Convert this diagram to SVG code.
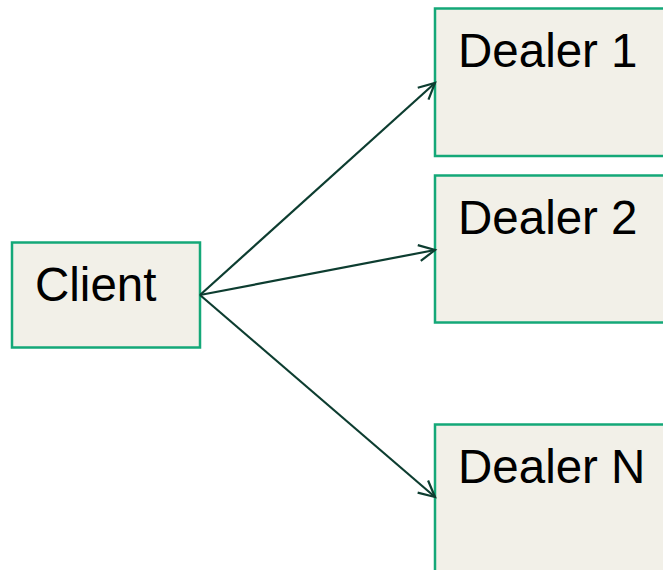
<svg xmlns="http://www.w3.org/2000/svg" width="663" height="570" viewBox="0 0 663 570">
<style>
.box{fill:#f2f0e8;stroke:#14a878;stroke-width:2.5}
.lbl{font-family:"Liberation Sans",Arial,sans-serif;font-size:47.5px;fill:#000}
.conn{stroke:#0d3d30;stroke-width:2.2;fill:none;marker-end:url(#arr)}
</style>
<defs>
<marker id="arr" markerUnits="userSpaceOnUse" markerWidth="24" markerHeight="24" viewBox="0 0 24 24" refX="21" refY="12" orient="auto">
<path d="M5,4 L21,12 L5,20" fill="none" stroke="#0d3d30" stroke-width="2.2"/>
</marker>
</defs>
<rect width="663" height="570" fill="#fff"/>
<g id="client"><rect class="box" x="12" y="242.5" width="188" height="105"/><text class="lbl" x="35" y="301">Client</text></g>
<g id="dealer1"><rect class="box" x="435" y="8.5" width="240" height="147.5"/><text class="lbl" x="458" y="67">Dealer 1</text></g>
<g id="dealer2"><rect class="box" x="435" y="175.5" width="240" height="147"/><text class="lbl" x="458" y="234">Dealer 2</text></g>
<g id="dealerN"><rect class="box" x="435" y="424.5" width="240" height="160"/><text class="lbl" x="458" y="483">Dealer N</text></g>
<g id="connectors">
<line class="conn" x1="200" y1="295" x2="435" y2="83"/>
<line class="conn" x1="200" y1="295" x2="435" y2="250"/>
<line class="conn" x1="200" y1="295" x2="435" y2="497"/>
</g>
</svg>
